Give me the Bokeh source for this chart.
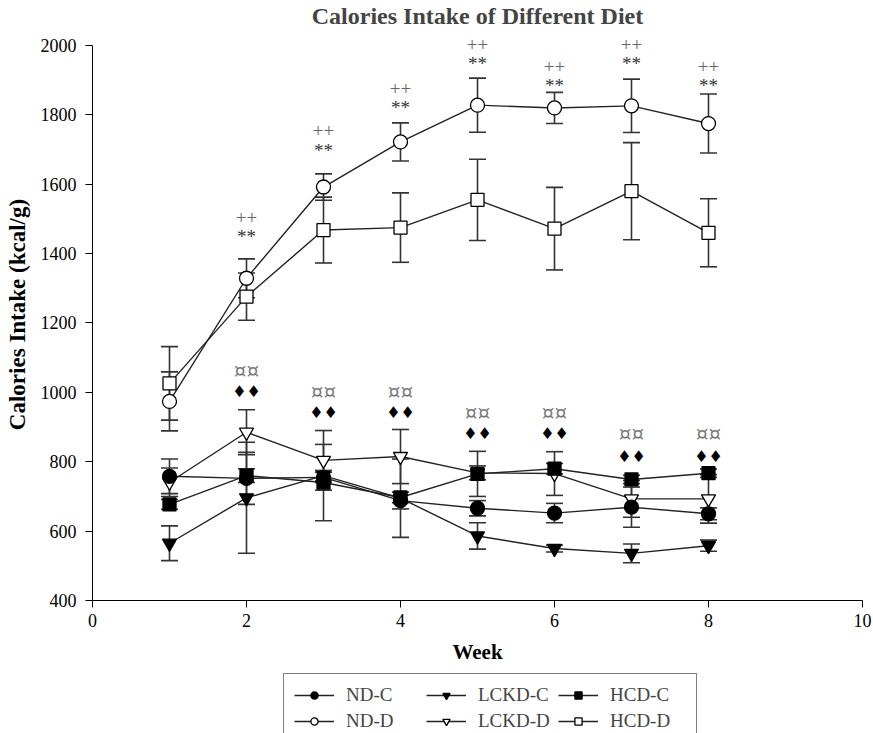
from bokeh.plotting import figure
from bokeh.layouts import column
from bokeh.models import (Range1d, Whisker, TeeHead, ColumnDataSource, Legend,
                          LegendItem, FixedTicker)
from bokeh.core.properties import value
from bokeh.embed import file_html
from bokeh.resources import INLINE

# ---------------- data ----------------
weeks = [1, 2, 3, 4, 5, 6, 7, 8]

nd_c = [758, 752, 755, 688, 666, 652, 669, 650]
nd_c_sd = [50, 75, 15, 24, 22, 28, 58, 17]
lckd_c = [565, 696, 760, 695, 586, 550, 536, 558]
lckd_c_sd = [50, 160, 15, 113, 38, 10, 27, 16]
hcd_c = [677, 760, 740, 697, 765, 780, 749, 767]
hcd_c_sd = [14, 20, 110, 15, 65, 15, 12, 12]
nd_d = [974, 1329, 1592, 1722, 1828, 1820, 1826, 1775]
nd_d_sd = [85, 56, 38, 55, 78, 45, 77, 85]
lckd_d = [741, 885, 804, 815, 768, 766, 693, 693]
lckd_d_sd = [41, 65, 86, 78, 20, 63, 53, 70]
hcd_d = [1026, 1276, 1468, 1475, 1555, 1472, 1580, 1460]
hcd_d_sd = [106, 68, 95, 100, 117, 119, 140, 98]

sig_weeks = [2, 3, 4, 5, 6, 7, 8]
plus_y = [1505, 1755, 1875, 2003, 1939, 2003, 1939]
star_y = [1449, 1697, 1820, 1947, 1885, 1947, 1885]
curr_y = [1063, 1000, 1000, 941, 941, 880, 880]
diam_y = [1003, 941, 941, 880, 880, 816, 816]
plus_txt = ["++"] * 7
star_txt = ["**"] * 7
curr_txt = ["\u00a4\u00a4"] * 7
diam_txt = ["\u2666\u2666"] * 7

x_ticks = [0, 2, 4, 6, 8, 10]
y_ticks = [400, 600, 800, 1000, 1200, 1400, 1600, 1800, 2000]

SERIF = "Liberation Serif"
LINE = "#222222"
ERR = "#333333"

p = figure(width=873, height=668, output_backend="svg", toolbar_location=None,
           x_range=Range1d(0, 10), y_range=Range1d(400, 2049),
           min_border_left=92, min_border_right=11, min_border_top=28,
           min_border_bottom=68)
p.title.text = "Calories Intake of Different Diet"
p.title.align = "center"
p.title.offset = 8
p.title.text_font = SERIF
p.title.text_font_size = "24px"
p.title.text_font_style = "bold"
p.title.standoff = 0
p.outline_line_color = None
p.grid.visible = False

for ax in (p.xaxis[0], p.yaxis[0]):
    ax.major_label_text_font = SERIF
    ax.major_label_text_font_size = "18px"
    ax.major_label_text_color = "black"
    ax.axis_label_text_font = SERIF
    ax.axis_label_text_font_style = "bold"
    ax.axis_label_text_color = "black"
    ax.minor_tick_line_color = None
    ax.major_tick_in = 0
    ax.major_tick_out = 7
    ax.axis_line_color = "black"
    ax.major_tick_line_color = "black"

p.xaxis.axis_label = "Week"
p.xaxis.axis_label_text_font_size = "21px"
p.xaxis.ticker = FixedTicker(ticks=x_ticks)
p.xaxis.major_label_standoff = 6
p.xaxis.axis_label_standoff = 10
p.yaxis.axis_label = "Calories Intake (kcal/g)"
p.yaxis.axis_label_text_font_size = "23px"
p.yaxis.ticker = FixedTicker(ticks=y_ticks)
p.yaxis.bounds = (400, 2000)
p.yaxis.major_label_standoff = 9
p.yaxis.axis_label_standoff = 8

series = [
    ("ND-D", nd_d, nd_d_sd, "circle", "white", 14),
    ("LCKD-D", lckd_d, lckd_d_sd, "inverted_triangle", "white", 14),
    ("HCD-D", hcd_d, hcd_d_sd, "square", "white", 13),
    ("ND-C", nd_c, nd_c_sd, "circle", "black", 14),
    ("LCKD-C", lckd_c, lckd_c_sd, "inverted_triangle", "black", 14),
    ("HCD-C", hcd_c, hcd_c_sd, "square", "black", 13),
]

for name, vals, sd, mk, fill, sz in series:
    src = ColumnDataSource(dict(x=weeks,
                                lower=[v - s for v, s in zip(vals, sd)],
                                upper=[v + s for v, s in zip(vals, sd)]))
    w = Whisker(base="x", lower="lower", upper="upper", source=src,
                dimension="height", line_color=ERR, line_width=1.6,
                upper_head=TeeHead(size=17, line_color=ERR, line_width=1.6),
                lower_head=TeeHead(size=17, line_color=ERR, line_width=1.6),
                level="underlay")
    p.add_layout(w)
for name, vals, sd, mk, fill, sz in series:
    p.line(weeks, vals, line_color=LINE, line_width=1.4)
for name, vals, sd, mk, fill, sz in series:
    p.scatter(weeks, vals, marker=mk, size=sz, fill_color=fill,
              line_color="black", line_width=1.3)

def marks(ys, txt, color, size, font):
    src = ColumnDataSource(dict(x=sig_weeks, y=ys, t=txt))
    p.text(x="x", y="y", text="t", source=src, text_font=value(font),
           text_font_size=size, text_color=color, text_align="center",
           text_baseline="middle")

marks(plus_y, plus_txt, "#666666", "19px", SERIF)
marks(star_y, star_txt, "#333333", "19px", SERIF)
marks(curr_y, curr_txt, "#777777", "20px", "DejaVu Serif")
marks(diam_y, diam_txt, "black", "16px", "DejaVu Sans")

# ---------------- legend strip ----------------
q = figure(width=873, height=65, output_backend="svg", toolbar_location=None,
           x_range=Range1d(0, 1), y_range=Range1d(0, 1),
           x_axis_type=None, y_axis_type=None, min_border=0)
q.outline_line_color = None
q.grid.visible = False
leg_r = {}
for name, vals, sd, mk, fill, sz in series:
    # off-screen proxies so that the legend can draw each series' key
    l = q.line([-5, -4], [-5, -5], line_color=LINE, line_width=1.4)
    m = q.scatter([-5], [-5], marker=mk, size=sz, fill_color=fill,
                  line_color="black", line_width=1.3)
    leg_r[name] = [l, m]

order = ["ND-C", "LCKD-C", "HCD-C", "ND-D", "LCKD-D", "HCD-D"]
items = [LegendItem(label=n, renderers=leg_r[n]) for n in order]
legend = Legend(items=items, location=(191, -10), orientation="horizontal",
                ncols=3, border_line_color="black", border_line_width=1,
                background_fill_color="white", background_fill_alpha=1,
                label_text_font=SERIF, label_text_font_size="19px",
                glyph_width=40, glyph_height=18, label_height=18,
                label_width=76, label_standoff=12, spacing=4, padding=10,
                margin=0)
q.add_layout(legend, "center")

layout = column(p, q, spacing=0)
open("out.html", "w").write(file_html(layout, INLINE))
